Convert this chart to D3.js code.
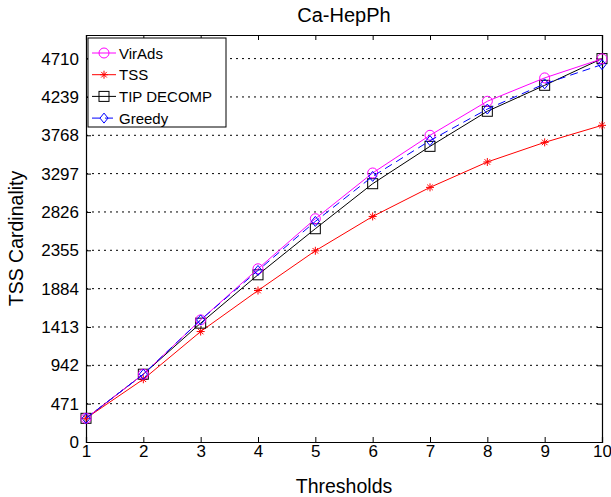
<!DOCTYPE html>
<html>
<script src='https://d3js.org/d3.v7.min.js'></script>
<style>
	body {margin: 0; background: white; }
	svg text {font-family: "Liberation Sans", Arial, sans-serif; fill: #000; }
	.tick text {font-size: 17px; }
</style>
<body>
<svg id="chart" width="611" height="497"></svg>
<script>
const thresholds = [1, 2, 3, 4, 5, 6, 7, 8, 9, 10];
const yTicks = [0, 471, 942, 1413, 1884, 2355, 2826, 3297, 3768, 4239, 4710];

const virAds = [291, 833, 1500, 2128, 2743, 3305, 3768, 4186, 4473, 4707];
const tss = [291, 771, 1357, 1861, 2349, 2771, 3128, 3440, 3681, 3890];
const tipDecomp = [291, 833, 1460, 2054, 2620, 3173, 3632, 4063, 4382, 4710];
const greedy = [291, 833, 1500, 2107, 2710, 3263, 3702, 4090, 4400, 4637];

const seriesNames = ["VirAds", "TSS", "TIP DECOMP", "Greedy"];
const seriesValues = [virAds, tss, tipDecomp, greedy];
const seriesColors = ["#ff00ff", "#ff0000", "#000000", "#0000ff"];
const seriesMarkers = ["circle", "star", "square", "diamond"];
const seriesDash = [null, null, null, "8,5"];

const svg = d3.select("#chart"),
	margin = {top: 35, right: 9, bottom: 55, left: 86},
	width = +svg.attr("width"),
	height = +svg.attr("height");

const x = d3.scaleLinear()
	.domain([1, 10])
	.range([margin.left, width - margin.right]);

const y = d3.scaleLinear()
	.domain([0, 5000])
	.range([height - margin.bottom, margin.top]);

// dotted grid
svg.append("g")
	.selectAll("line")
	.data(yTicks.slice(1))
	.enter()
	.append("line")
	.attr("x1", x(1))
	.attr("x2", x(10))
	.attr("y1", d => y(d))
	.attr("y2", d => y(d))
	.attr("stroke", "#000")
	.attr("stroke-width", 1)
	.attr("stroke-dasharray", "2,4");

// axes with inward ticks
const axB = svg.append("g")
	.attr("transform", `translate(0,${y(0)})`)
	.call(d3.axisBottom(x).tickValues(thresholds).tickSize(-5).tickPadding(3).tickFormat(d3.format("d")));
const axT = svg.append("g")
	.attr("transform", `translate(0,${y(5000)})`)
	.call(d3.axisTop(x).tickValues(thresholds).tickSize(-5).tickFormat(""));
const axL = svg.append("g")
	.attr("transform", `translate(${x(1)},0)`)
	.call(d3.axisLeft(y).tickValues(yTicks).tickSize(-5).tickPadding(7).tickFormat(d3.format("d")));
const axR = svg.append("g")
	.attr("transform", `translate(${x(10)},0)`)
	.call(d3.axisRight(y).tickValues(yTicks).tickSize(-5).tickFormat(""));

[axB, axT, axL, axR].forEach(a => {
	a.attr("font-size", null).attr("font-family", null);
	a.select(".domain").attr("stroke", "#000").attr("stroke-width", 1.2);
	a.selectAll(".tick line").attr("stroke", "#000");
	a.selectAll(".tick text").style("font-size", "17px");
});

svg.append("text")
	.attr("x", (x(1) + x(10)) / 2)
	.attr("y", 22)
	.attr("text-anchor", "middle")
	.attr("font-size", "20px")
	.text("Ca-HepPh");

svg.append("text")
	.attr("x", (x(1) + x(10)) / 2)
	.attr("y", 493)
	.attr("text-anchor", "middle")
	.attr("font-size", "19.5px")
	.text("Thresholds");

svg.append("text")
	.attr("transform", "rotate(-90)")
	.attr("x", -(y(0) + y(5000)) / 2)
	.attr("y", 23)
	.attr("text-anchor", "middle")
	.attr("font-size", "19.5px")
	.text("TSS Cardinality");

function drawMarker(g, type, color, cx, cy) {
	if (type === "circle") {
		g.append("circle").attr("cx", cx).attr("cy", cy).attr("r", 5)
			.attr("fill", "none").attr("stroke", color).attr("stroke-width", 1);
	} else if (type === "square") {
		g.append("rect").attr("x", cx - 5).attr("y", cy - 5).attr("width", 10).attr("height", 10)
			.attr("fill", "none").attr("stroke", color).attr("stroke-width", 1);
	} else if (type === "diamond") {
		g.append("path").attr("d", `M${cx},${cy - 5}L${cx + 4},${cy}L${cx},${cy + 5}L${cx - 4},${cy}Z`)
			.attr("fill", "none").attr("stroke", color).attr("stroke-width", 1);
	} else if (type === "star") {
		const r = 4;
		const d = `M${cx - r},${cy}L${cx + r},${cy}M${cx},${cy - r}L${cx},${cy + r}` +
			`M${cx - r * 0.7},${cy - r * 0.7}L${cx + r * 0.7},${cy + r * 0.7}` +
			`M${cx - r * 0.7},${cy + r * 0.7}L${cx + r * 0.7},${cy - r * 0.7}`;
		g.append("path").attr("d", d).attr("stroke", color).attr("stroke-width", 1);
	}
}

const line = d3.line()
	.x((d, i) => x(thresholds[i]))
	.y(d => y(d));

// draw order: TSS, TIP, VirAds, Greedy on top
[1, 2, 0, 3].forEach(i => {
	const g = svg.append("g");
	g.append("path")
		.datum(seriesValues[i])
		.attr("fill", "none")
		.attr("stroke", seriesColors[i])
		.attr("stroke-width", 1)
		.attr("stroke-dasharray", seriesDash[i])
		.attr("d", line);
	seriesValues[i].forEach((v, j) => drawMarker(g, seriesMarkers[i], seriesColors[i], x(thresholds[j]), y(v)));
});

// legend
const lg = svg.append("g");
lg.append("rect")
	.attr("x", 88).attr("y", 38).attr("width", 138).attr("height", 89)
	.attr("fill", "white").attr("stroke", "#000").attr("stroke-width", 1);
seriesNames.forEach((name, i) => {
	const ly = 53 + i * 21.7;
	lg.append("line")
		.attr("x1", 92).attr("x2", 116).attr("y1", ly).attr("y2", ly)
		.attr("stroke", seriesColors[i]).attr("stroke-width", 1)
		.attr("stroke-dasharray", seriesDash[i]);
	drawMarker(lg, seriesMarkers[i], seriesColors[i], 104, ly);
	lg.append("text")
		.attr("x", 119).attr("y", ly + 5.5)
		.attr("font-size", "15px")
		.text(name);
});
</script>
</body>
</html>
